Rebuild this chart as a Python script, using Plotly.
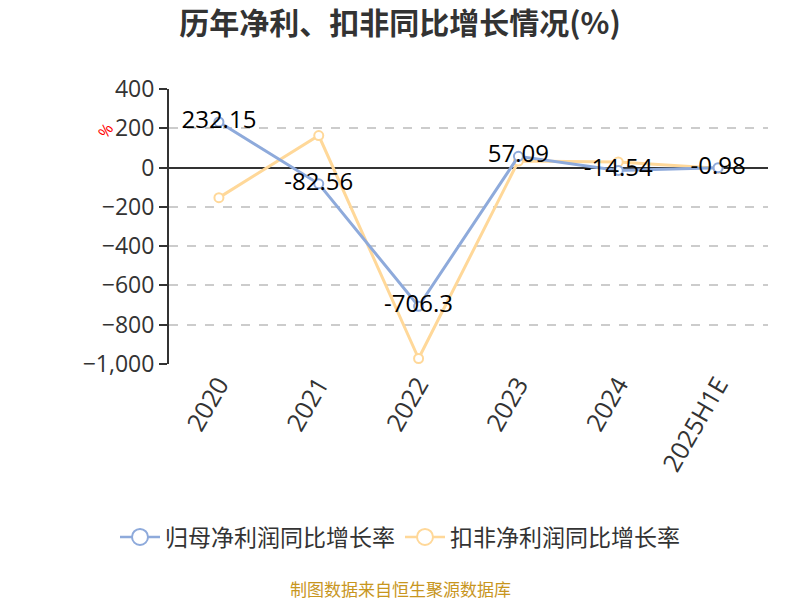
import plotly.graph_objects as go

# 数据
years = ['2020', '2021', '2022', '2023', '2024', '2025H1E']
guimu_growth = [232.15, -82.56, -706.3, 57.09, -14.54, -0.98]
koufei_growth = [-153, 163, -972, 33, 29, -4]
labels_guimu = ['232.15', '-82.56', '-706.3', '57.09', '-14.54', '-0.98']
series_names = ['归母净利润同比增长率', '扣非净利润同比增长率']

BLUE = '#8eaadb'
ORANGE = '#ffd899'
FONT = 'Open Sans, Noto Sans CJK SC'
CJK = 'Noto Sans CJK SC'

fig = go.Figure()

# 扣非（下层）
fig.add_trace(go.Scatter(
    x=years, y=koufei_growth, name=series_names[1], showlegend=False,
    mode='lines+markers',
    line=dict(color=ORANGE, width=3),
    marker=dict(size=9, color='white', line=dict(color=ORANGE, width=2)),
))

# 归母（上层，带标签）
fig.add_trace(go.Scatter(
    x=years, y=guimu_growth, name=series_names[0], showlegend=False,
    mode='lines+markers+text',
    line=dict(color=BLUE, width=3),
    marker=dict(size=9, color='white', line=dict(color=BLUE, width=2)),
    text=labels_guimu, textposition='middle center',
    textfont=dict(size=24, color='#000000', family=FONT),
))

# 图例用的空系列（大圆圈图标）
for nm, col in zip(series_names, [BLUE, ORANGE]):
    fig.add_trace(go.Scatter(
        x=[None], y=[None], name=nm, mode='lines+markers',
        line=dict(color=col, width=2.5),
        marker=dict(size=16, color='white', line=dict(color=col, width=2)),
    ))

fig.update_layout(
    width=800, height=600,
    plot_bgcolor='white', paper_bgcolor='white',
    font=dict(family=FONT, color='#333333'),
    title=dict(text='<b>历年净利、扣非同比增长情况(%)</b>', x=0.5, y=1 - 23 / 600,
               xanchor='center', yanchor='middle',
               font=dict(size=30, color='#333333', family=CJK)),
    margin=dict(l=169, r=32, t=89, b=236),
    showlegend=True,
    legend=dict(orientation='h', x=0.5, xanchor='center', xref='container',
                y=1 - 537 / 600, yanchor='middle', yref='container',
                font=dict(size=23, color='#333333', family=CJK),
                itemwidth=40, itemsizing='trace'),
    annotations=[
        dict(text='制图数据来自恒生聚源数据库', x=(400 - 169) / 599, y=-(588 - 364) / 275,
             xref='paper', yref='paper', xanchor='center', yanchor='middle',
             showarrow=False, font=dict(size=17, color='#c8961e', family=CJK)),
        dict(text='%', x=(105 - 169) / 599, y=(364 - 131) / 275,
             xref='paper', yref='paper', xanchor='center', yanchor='middle',
             textangle=-55, showarrow=False, font=dict(size=16, color='red')),
    ],
)

fig.update_xaxes(
    type='category', categoryorder='array', categoryarray=years,
    range=[-0.5, len(years) - 0.5],
    ticks='', showline=False, showgrid=False, zeroline=False,
    tickangle=-60, tickfont=dict(size=25, color='#333333'),
    automargin=False,
)

# y=0 处的类目轴刻度
fig.update_layout(xaxis2=dict(
    type='category', categoryorder='array', categoryarray=years,
    overlaying='x', anchor='free', position=1000 / 1400, matches='x',
    tickson='boundaries', ticks='outside', ticklen=8, tickwidth=2,
    tickcolor='#333333', showticklabels=False, showline=False,
    showgrid=False, zeroline=False, automargin=False,
))

fig.update_yaxes(
    range=[-1000, 400], dtick=200, tickformat=',', ticks='outside', ticklen=8,
    tickwidth=1.5, tickcolor='#333333', showline=True, linecolor='#333333',
    linewidth=2, tickfont=dict(size=23, color='#333333'),
    showgrid=True, gridcolor='#cccccc', griddash='dash', gridwidth=1.5,
    zeroline=True, zerolinecolor='#333333', zerolinewidth=2,
    automargin=False,
)

# 页面默认 body 边距会让图偏移 8px，去掉
fig.write_html('out.html', config={'displayModeBar': False},
               post_script="document.body.style.margin='0';")
